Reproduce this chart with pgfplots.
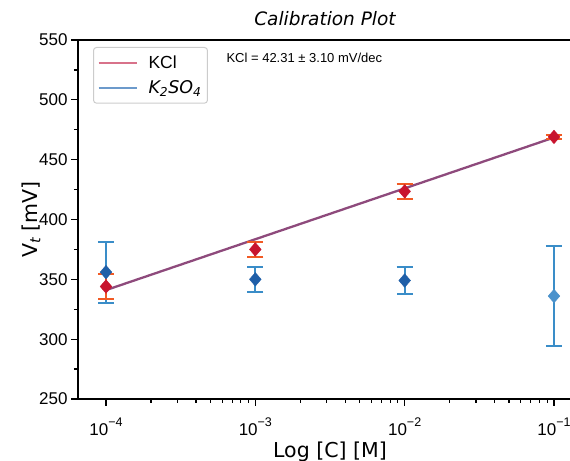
\documentclass[border=0pt]{standalone}
\usepackage{fontspec}
\setmainfont{Liberation Sans}
\newfontfamily\djv{DejaVu Sans}
\usepackage{pgfplots}
\pgfplotsset{compat=1.18}
\usetikzlibrary{calc}

\definecolor{fitPurple}{HTML}{8E4A7C}
\definecolor{kclMark}{HTML}{C8142E}
\definecolor{kclErr}{HTML}{F15A24}
\definecolor{ksoMark}{HTML}{1F5FA8}
\definecolor{ksoLight}{HTML}{4A92CC}
\definecolor{ksoErr}{HTML}{3A8DC8}
\definecolor{legKCl}{HTML}{D8728A}
\definecolor{legKSO}{HTML}{6C9ACB}

\newcommand{\tl}[1]{10\raisebox{0.55em}{\fontsize{12.5}{12}\selectfont #1}}

\pgfplotstableread{
x      y      e
1e-4   344    10.5
1e-3   375    6.5
1e-2   423.5  6
1e-1   469    1.5
}\kcl

\pgfplotstableread{
x      y      e
1e-4   356    25.5
1e-3   350    10.5
1e-2   349    11
}\kso

\pgfplotstableread{
x      y      e
1e-1   336    42
}\ksolast

\begin{document}
\begin{tikzpicture}
\begin{axis}[
  scale only axis, width=504pt, height=359pt,
  xmode=log, xmin=6.494e-5, xmax=0.15399,
  ymin=250, ymax=550,
  ytick={250,300,...,550}, minor ytick={275,325,...,525},
  xtick={1e-4,1e-3,1e-2,1e-1},
  xticklabels={\tl{−4},\tl{−3},\tl{−2},\tl{−1}},
  xtick pos=bottom, ytick pos=left,
  tick align=outside,
  major tick length=7pt, minor tick length=4pt,
  every tick/.style={black, line width=1.2pt},
  axis line style={line width=1.5pt},
  ticklabel style={font=\fontsize{17}{20}\selectfont},
  xticklabel style={yshift=-8pt},
  /pgf/number format/assume math mode=true,
  xlabel={\djv Log [C] [M]},
  ylabel={\djv V\textsubscript{\itshape t} [mV]},
  label style={font=\fontsize{20.5}{24}\selectfont},
  xlabel style={at={(axis description cs:0.5,-0.147)}, anchor=center},
  ylabel style={at={(axis description cs:-0.0933,0.5)}, anchor=center},
  title={\djv\itshape Calibration Plot},
  title style={font=\fontsize{18.5}{20}\selectfont, at={(axis description cs:0.5,1)}, anchor=base, yshift=8pt, xshift=-5pt},
  legend style={at={(axis description cs:0.0298,0.9805)}, anchor=north west,
    draw=black!20, rounded corners=3pt, line width=1pt, fill=white,
    font=\fontsize{17.5}{19}\selectfont, inner xsep=4pt, inner ysep=6pt,
    row sep=7pt,
    /tikz/every odd column/.append style={column sep=9pt}},
  legend cell align=left,
  legend image code/.code={\draw[#1] (0pt,0pt) -- (38pt,0pt);},
]
\addlegendimage{legKCl, line width=2pt}
\addlegendentry{KCl}
\addlegendimage{legKSO, line width=2pt}
\addlegendentry{{\djv\itshape K\textsubscript{2}SO\textsubscript{4}}}

\addplot[fitPurple, line width=2.3pt, forget plot] coordinates {(1e-4,341) (1e-1,468.5)};

\addplot[only marks, mark=diamond*, mark size=6.8pt, color=ksoMark,
  mark options={xscale=1.15}, forget plot,
  error bars/.cd, y dir=both, y explicit,
  error bar style={color=ksoErr, line width=2pt},
  error mark options={color=ksoErr, line width=2pt, mark size=8pt, rotate=90}]
  table[x=x, y=y, y error=e] {\kso};
\addplot[only marks, mark=diamond*, mark size=6.8pt, color=ksoLight,
  mark options={xscale=1.15}, forget plot,
  error bars/.cd, y dir=both, y explicit,
  error bar style={color=ksoErr, line width=2pt},
  error mark options={color=ksoErr, line width=2pt, mark size=8pt, rotate=90}]
  table[x=x, y=y, y error=e] {\ksolast};
\addplot[only marks, mark=diamond*, mark size=6.8pt, color=kclMark,
  mark options={xscale=1.15}, forget plot,
  error bars/.cd, y dir=both, y explicit,
  error bar style={color=kclErr, line width=2pt},
  error mark options={color=kclErr, line width=2pt, mark size=8pt, rotate=90}]
  table[x=x, y=y, y error=e] {\kcl};

\node[anchor=base west, font=\fontsize{13}{15}\selectfont]
  at (axis description cs:0.2877,0.9373) {KCl = 42.31 ± 3.10 mV/dec};
\end{axis}
\pgfresetboundingbox
\path[use as bounding box] ($(current axis.south west)+(-78pt,-62pt)$)
  rectangle ($(current axis.north west)+(492pt,40pt)$);
\end{tikzpicture}
\end{document}
